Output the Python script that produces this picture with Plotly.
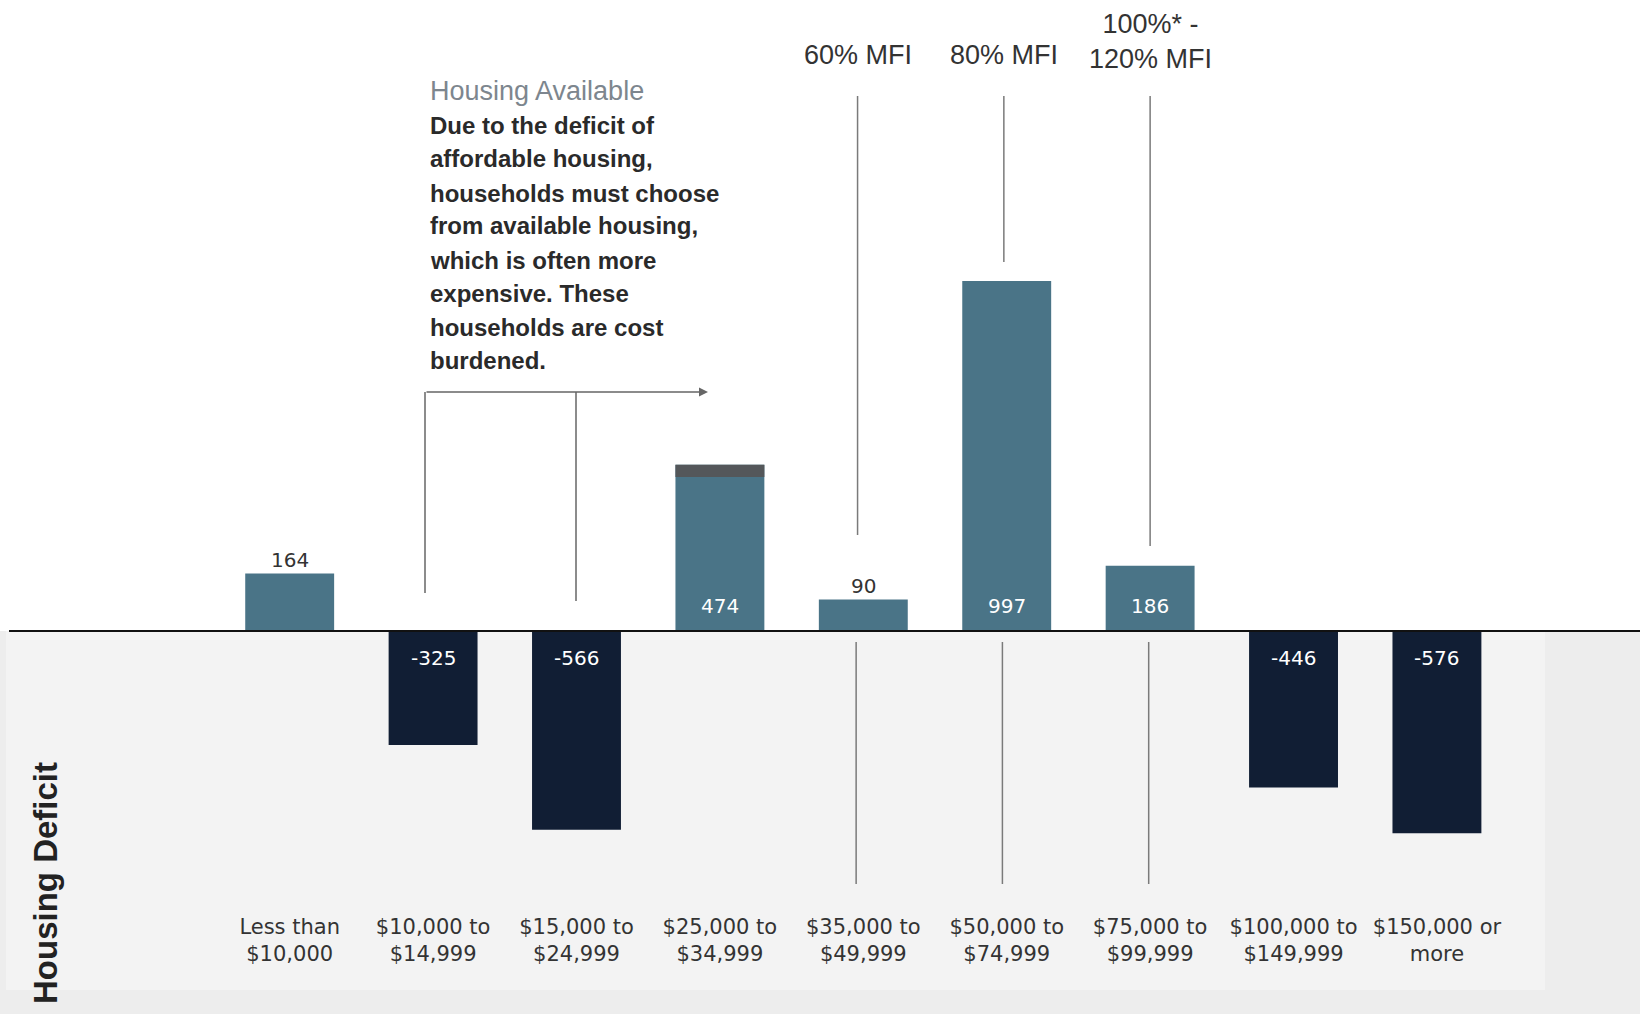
import plotly.graph_objects as go

# ---------------- data ----------------
categories = ["Less than<br>$10,000", "$10,000 to<br>$14,999", "$15,000 to<br>$24,999",
              "$25,000 to<br>$34,999", "$35,000 to<br>$49,999", "$50,000 to<br>$74,999",
              "$75,000 to<br>$99,999", "$100,000 to<br>$149,999", "$150,000 or<br>more"]
values = [164, -325, -566, 474, 90, 997, 186, -446, -576]
label_outside = [True, False, False, False, True, False, False, False, False]
cap_category = [3]
cap_top = [474]
cap_size = [35]
mfi_labels = ["60% MFI", "80% MFI", "100%* -<br>120% MFI"]
mfi_category = [4, 5, 6]
note_title = "Housing Available"
note_lines = ["Due to the deficit of", "affordable housing,", "households must choose",
              "from available housing,", "which is often more", "expensive. These",
              "households are cost", "burdened."]

# ---------------- geometry helpers (pixels -> paper) ----------------
W, H = 1640, 1014
PLOT_H = 912
ZERO_PX = 631
PX_PER_UNIT = 0.351
Y_TOP = ZERO_PX / PX_PER_UNIT
Y_BOT = -(PLOT_H - ZERO_PX) / PX_PER_UNIT

def px(x):
    return x / W
def py(y):
    return 1 - y / PLOT_H

POS = "#4a7487"
NEG = "#111e34"

fig = go.Figure()
fig.add_trace(go.Bar(
    x=list(range(len(categories))), y=values, width=0.62,
    marker=dict(color=[POS if v > 0 else NEG for v in values], line=dict(width=0)),
    showlegend=False, hoverinfo="skip"))
fig.add_trace(go.Bar(
    x=cap_category, y=cap_size, base=[t - s for t, s in zip(cap_top, cap_size)], width=0.62,
    marker=dict(color="#54575a", line=dict(width=0)), showlegend=False, hoverinfo="skip"))

shapes = []
# background below the zero line
shapes.append(dict(type="rect", xref="paper", yref="paper", x0=0, x1=1, y0=py(ZERO_PX), y1=py(1014),
                   fillcolor="#ededed", line=dict(width=0), layer="below"))
shapes.append(dict(type="rect", xref="paper", yref="paper", x0=px(6), x1=px(1545), y0=py(ZERO_PX), y1=py(990),
                   fillcolor="#f3f3f3", line=dict(width=0), layer="below"))
# zero line
shapes.append(dict(type="line", xref="paper", yref="y", x0=px(9), x1=1, y0=0, y1=0,
                   line=dict(color="#111111", width=2)))
# MFI reference lines (slightly left of the bar centres, as drawn in the original)
offsets = [-0.04, -0.02, 0.0]
tops_end = [535, 262, 546]
for c, off, yend in zip(mfi_category, offsets, tops_end):
    shapes.append(dict(type="line", xref="x", yref="paper", x0=c + off, x1=c + off, y0=py(96), y1=py(yend),
                       line=dict(color="#7a7a7a", width=1.5)))
    shapes.append(dict(type="line", xref="x", yref="paper", x0=c + off - 0.01, x1=c + off - 0.01,
                       y0=py(642), y1=py(884), line=dict(color="#7a7a7a", width=1.5)))
# bracket lines for the note
shapes.append(dict(type="line", xref="paper", yref="paper", x0=px(425), x1=px(425), y0=py(392), y1=py(593),
                   line=dict(color="#666666", width=1.5)))
shapes.append(dict(type="line", xref="paper", yref="paper", x0=px(576), x1=px(576), y0=py(392), y1=py(601),
                   line=dict(color="#666666", width=1.5)))

annotations = []
# bar value labels
for i, (v, outside) in enumerate(zip(values, label_outside)):
    if outside:
        annotations.append(dict(xref="x", yref="y", x=i, y=v, yanchor="middle", yshift=13,
                                showarrow=False, text=str(v),
                                font=dict(family="DejaVu Sans", size=20, color="#333333")))
    else:
        annotations.append(dict(xref="x", yref="y", x=i, y=0, yanchor="middle",
                                yshift=25 if v > 0 else -27, showarrow=False, text=str(v),
                                font=dict(family="DejaVu Sans", size=20, color="white")))
annotations.append(dict(xref="paper", yref="paper", x=px(708), y=py(392), ax=-283, ay=0,
                        axref="pixel", ayref="pixel", showarrow=True, arrowhead=2, arrowsize=1.2,
                        arrowwidth=1.5, arrowcolor="#666666", text=""))
# MFI labels
label_bottom = [72, 72, 76]
for c, off, lab, yb in zip(mfi_category, offsets, mfi_labels, label_bottom):
    annotations.append(dict(xref="x", yref="paper", x=c + off, y=py(yb), xanchor="center", yanchor="bottom",
                            showarrow=False, text=lab,
                            font=dict(family="Liberation Sans", size=27, color="#333333")))
# note text
annotations.append(dict(xref="paper", yref="paper", x=px(428), y=py(91), xanchor="left", yanchor="middle",
                        showarrow=False, text=note_title,
                        font=dict(family="Liberation Sans", size=27, color="#7d868e")))
line_y = [125, 159, 193, 226, 260, 293, 327, 361]
for yy, t in zip(line_y, note_lines):
    annotations.append(dict(xref="paper", yref="paper", x=px(428), y=py(yy), xanchor="left", yanchor="middle",
                            showarrow=False, text="<b>" + t + "</b>",
                            font=dict(family="Liberation Sans", size=24, color="#2a2a2a")))
# side label
annotations.append(dict(xref="paper", yref="paper", x=px(45), y=py(883), xanchor="center", yanchor="middle",
                        textangle=-90, showarrow=False, text="<b>Housing Deficit</b>",
                        font=dict(family="Liberation Sans", size=33, color="#222222")))

fig.update_layout(
    width=W, height=H, margin=dict(l=0, r=0, t=0, b=H - PLOT_H),
    paper_bgcolor="white", plot_bgcolor="rgba(0,0,0,0)",
    barmode="overlay", shapes=shapes, annotations=annotations,
    xaxis=dict(range=[-2.02, 9.416], tickmode="array", tickvals=list(range(len(categories))),
               ticktext=categories, showgrid=False, zeroline=False, showline=False, ticks="",
               tickfont=dict(family="DejaVu Sans", size=21, color="#333333")),
    yaxis=dict(range=[Y_BOT, Y_TOP], showgrid=False, zeroline=False, showline=False,
               showticklabels=False, ticks=""),
)

fig.write_html("out.html")
